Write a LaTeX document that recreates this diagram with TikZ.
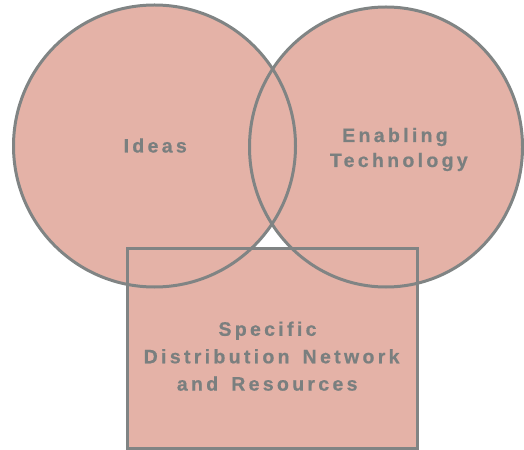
\documentclass[tikz,border=0pt]{standalone}
\usepackage{fontspec}
\newfontfamily\labelfont[LetterSpace=17, WordSpace=1.5,
  BoldFont={Liberation Sans Bold}, BoldFeatures={FakeBold=0.6}]{Liberation Sans}
\definecolor{vennfill}{HTML}{E4B2A7}
\definecolor{venndraw}{HTML}{808484}
\definecolor{venntext}{HTML}{7A7F7F}
\tikzset{
  vennline/.style={draw=venndraw, line width=3bp},
  vennarea/.style={fill=vennfill},
  lbl/.style={anchor=base, inner sep=0pt, text=venntext,
    font=\labelfont\bfseries\fontsize{19.5bp}{27bp}\selectfont}
}
\begin{document}
\begin{tikzpicture}[x=1bp, y=-1bp]
  \useasboundingbox (0,0) rectangle (524,450);
  % areas first, outlines afterwards so every outline stays visible
  \fill[vennarea] (154.5,146) circle [radius=141];
  \fill[vennarea] (386,147) ellipse [x radius=136.5, y radius=140];
  \fill[vennarea] (127,248) rectangle (417,448);
  \draw[vennline] (154.5,146) circle [radius=141];
  \draw[vennline] (386,147) ellipse [x radius=136.5, y radius=140];
  \draw[vennline] (127,248) rectangle (417,448);
  % labels
  \node[lbl] (ideas) at (155.2,152.5) {Ideas};
  \node[lbl] (enab) at (395,142) {Enabling};
  \node[lbl] (tech) at (398.8,167) {Technology};
  \node[lbl] (spec) at (267.5,335.8) {Specific};
  \node[lbl] (dist) at (271.6,363.3) {Distribution Network};
  \node[lbl] (res) at (267.2,390.6) {and Resources};
\end{tikzpicture}
\end{document}
